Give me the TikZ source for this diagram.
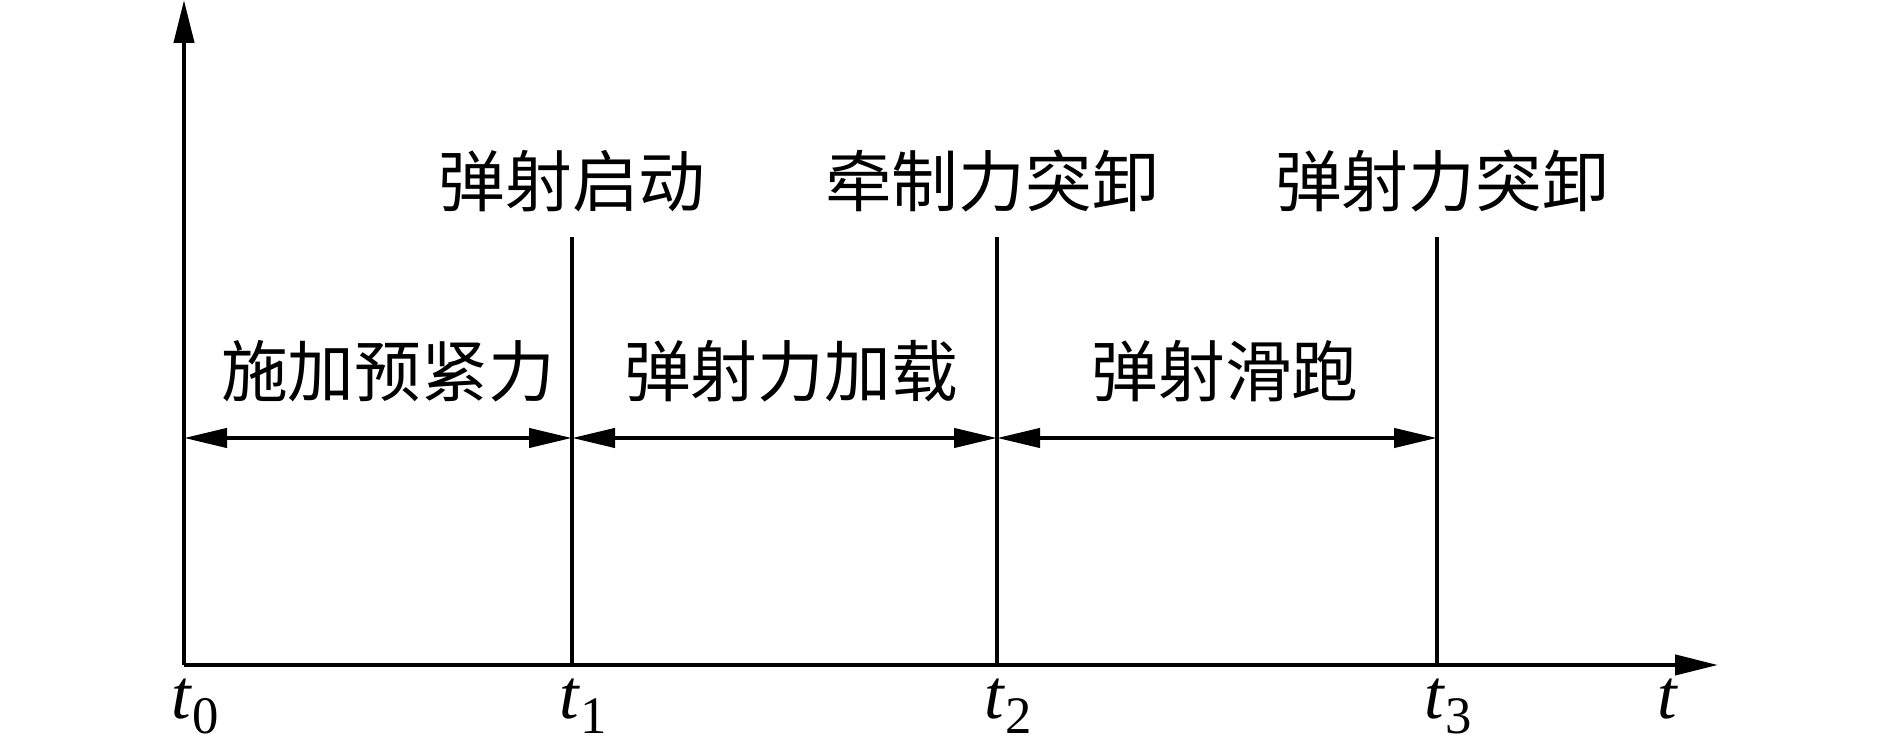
\documentclass[tikz,border=0pt]{standalone}
\usepackage{fontspec}
\setmainfont{Liberation Serif}
\newfontfamily\cjk{Noto Sans CJK SC}
\usetikzlibrary{arrows.meta}
\newcommand\tsym[1]{\textit{t}\raisebox{-0.2em}{\fontsize{15}{15}\selectfont #1}}
\begin{document}
\begin{tikzpicture}[
  axis/.style={line width=1.2pt,-{Triangle[length=4.3mm,width=2mm]}},
  span/.style={line width=1.2pt,{Triangle[length=4.3mm,width=1.9mm]}-{Triangle[length=4.3mm,width=1.9mm]}},
  vline/.style={line width=1.2pt},
  cjklabel/.style={font=\cjk\fontsize{19}{21}\selectfont,inner sep=0pt},
  tlabel/.style={font=\fontsize{20}{22}\selectfont,inner sep=0pt,anchor=base}
]
\useasboundingbox (0,0) rectangle (18.89,7.40);
% axes
\coordinate (O) at (1.84,0.75);
\coordinate (ytip) at (1.84,7.40);
\coordinate (xtip) at (17.18,0.75);
\draw[axis] (O) -- (ytip);
\draw[axis] (O) -- (xtip);
% vertical lines
\coordinate (b1) at (5.72,0.75); \coordinate (u1) at (5.72,5.03);
\coordinate (b2) at (9.97,0.75); \coordinate (u2) at (9.97,5.03);
\coordinate (b3) at (14.37,0.75); \coordinate (u3) at (14.37,5.03);
\draw[vline] (b1) -- (u1);
\draw[vline] (b2) -- (u2);
\draw[vline] (b3) -- (u3);
% spans
\coordinate (s0) at (1.84,3.02);
\coordinate (s1) at (5.72,3.02);
\coordinate (s2) at (9.97,3.02);
\coordinate (s3) at (14.37,3.02);
\draw[span] (s0) -- (s1);
\draw[span] (s1) -- (s2);
\draw[span] (s2) -- (s3);
% top labels
\node[cjklabel] (L1) at (5.72,5.59) {弹射启动};
\node[cjklabel] (L2) at (9.92,5.59) {牵制力突卸};
\node[cjklabel] (L3) at (14.42,5.59) {弹射力突卸};
% middle labels
\node[cjklabel] (M1) at (3.88,3.69) {施加预紧力};
\node[cjklabel] (M2) at (7.91,3.69) {弹射力加载};
\node[cjklabel] (M3) at (12.25,3.69) {弹射滑跑};
% t labels
\node[tlabel] (T0) at (1.95,0.21) {\tsym{0}};
\node[tlabel] (T1) at (5.83,0.21) {\tsym{1}};
\node[tlabel] (T2) at (10.08,0.21) {\tsym{2}};
\node[tlabel] (T3) at (14.48,0.21) {\tsym{3}};
\node[tlabel] (T) at (16.68,0.21) {\textit{t}};
\end{tikzpicture}
\end{document}
